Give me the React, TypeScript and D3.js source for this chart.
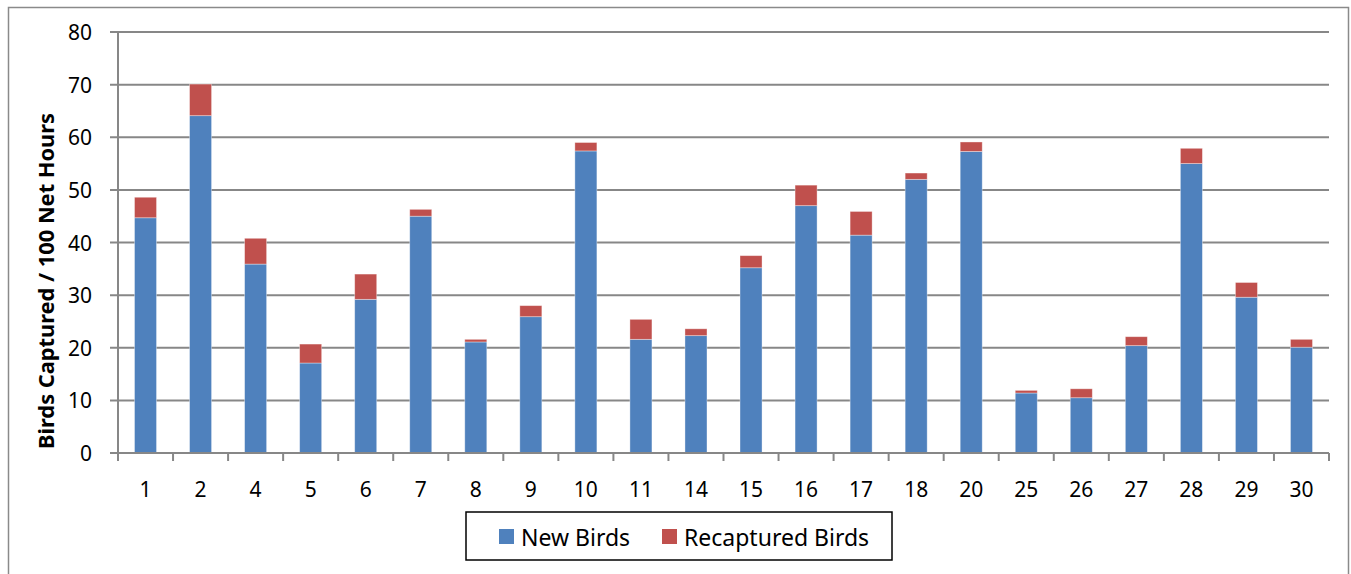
import React from "react";
import * as d3 from "d3";

// Capture sites and rates (birds per 100 net hours)
const sites = ["1", "2", "4", "5", "6", "7", "8", "9", "10", "11", "14", "15", "16", "17", "18", "20", "25", "26", "27", "28", "29", "30"];
const newBirds = [44.7, 64.1, 35.9, 17.1, 29.2, 45.0, 21.1, 25.9, 57.4, 21.6, 22.3, 35.2, 47.0, 41.4, 52.0, 57.3, 11.4, 10.5, 20.4, 55.0, 29.6, 20.1];
const recapturedBirds = [3.9, 6.0, 4.9, 3.6, 4.8, 1.3, 0.5, 2.1, 1.6, 3.8, 1.3, 2.3, 3.9, 4.5, 1.2, 1.8, 0.5, 1.7, 1.7, 2.9, 2.8, 1.5];
const yTicks = [0, 10, 20, 30, 40, 50, 60, 70, 80];
const seriesNames = ["New Birds", "Recaptured Birds"];
const seriesColors = ["#4F81BD", "#C0504D"];

const W = 1351;
const H = 574;
const plot = { left: 118, right: 1329, top: 32, bottom: 453 };
const FONT = "'Noto Sans', 'Open Sans', sans-serif";
const GRID = "#878787";

export default function App() {
  const x = d3
    .scaleBand<string>()
    .domain(sites)
    .range([plot.left, plot.right])
    .paddingInner(0.6)
    .paddingOuter(0.3);
  const y = d3.scaleLinear().domain([0, 80]).range([plot.bottom, plot.top]);

  const rows = sites.map((s, i) => ({ site: s, n: newBirds[i], r: recapturedBirds[i] }));
  const stacked = d3.stack<any>().keys(["n", "r"])(rows as any);

  const step = x.step();
  const boundaries = d3.range(sites.length + 1).map((i) => plot.left + i * step);

  return (
    <svg
      width={W}
      height={H}
      style={{ position: "absolute", left: 0, top: 0, background: "#fff" }}
    >
      {/* outer chart frame */}
      <rect x={8.5} y={7.5} width={1340} height={600} fill="none" stroke="#8a8a8a" strokeWidth={1.5} />

      {/* horizontal gridlines */}
      {yTicks.map((t) => (
        <line key={"g" + t} x1={plot.left - 8} x2={plot.right} y1={y(t)} y2={y(t)} stroke={GRID} strokeWidth={2} />
      ))}

      {/* stacked bars */}
      {stacked.map((layer, li) => (
        <g key={"s" + li} fill={seriesColors[li]}>
          {layer.map((d, i) => (
            <rect
              key={i}
              x={x(sites[i])!}
              y={y(d[1])}
              width={x.bandwidth()}
              height={y(d[0]) - y(d[1])}
              stroke="#ffffff"
              strokeOpacity={0.45}
              strokeWidth={0.8}
            />
          ))}
        </g>
      ))}

      {/* axes */}
      <line x1={plot.left} x2={plot.left} y1={plot.top} y2={plot.bottom} stroke={GRID} strokeWidth={2} />
      <line x1={plot.left} x2={plot.right} y1={plot.bottom} y2={plot.bottom} stroke={GRID} strokeWidth={2} />
      {boundaries.map((bx, i) => (
        <line key={"t" + i} x1={bx} x2={bx} y1={plot.bottom} y2={plot.bottom + 8} stroke={GRID} strokeWidth={2} />
      ))}

      {/* y tick labels */}
      {yTicks.map((t) => (
        <text
          key={"yl" + t}
          x={92}
          y={y(t)}
          textAnchor="end"
          dominantBaseline="central"
          fontFamily={FONT}
          fontSize={21}
          fill="#000"
        >
          {t}
        </text>
      ))}

      {/* x tick labels */}
      {sites.map((s) => (
        <text
          key={"xl" + s}
          x={x(s)! + x.bandwidth() / 2}
          y={488.5}
          textAnchor="middle"
          dominantBaseline="central"
          fontFamily={FONT}
          fontSize={21}
          fill="#000"
        >
          {s}
        </text>
      ))}

      {/* y axis title */}
      <text
        transform={`translate(46, 281) rotate(-90)`}
        textAnchor="middle"
        dominantBaseline="central"
        fontFamily={FONT}
        fontWeight="bold"
        fontSize={20.5}
        textLength={336}
        lengthAdjust="spacingAndGlyphs"
        fill="#000"
      >
        Birds Captured / 100 Net Hours
      </text>

      {/* legend */}
      <rect x={466} y={512} width={426} height={48} fill="#fff" stroke="#000" strokeWidth={1.5} />
      {seriesNames.map((name, i) => {
        const lx = i === 0 ? 499 : 662;
        return (
          <g key={"lg" + i}>
            <rect x={lx} y={529} width={15} height={15} fill={seriesColors[i]} />
            <text
              x={lx + 22}
              y={537}
              dominantBaseline="central"
              fontFamily={FONT}
              fontSize={23}
              fill="#000"
            >
              {name}
            </text>
          </g>
        );
      })}
    </svg>
  );
}
